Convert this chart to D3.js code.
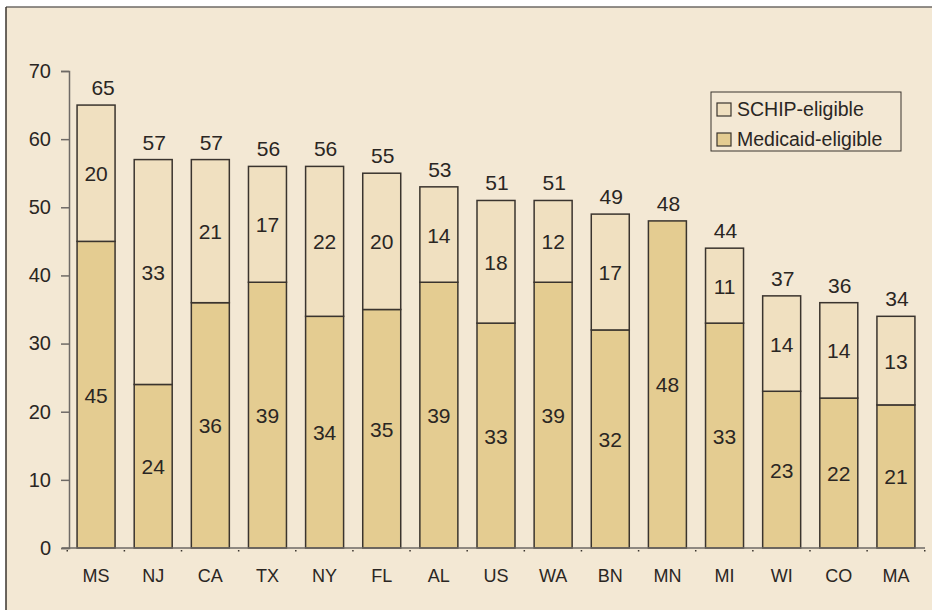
<!DOCTYPE html>
<html>
<head>
<meta charset="utf-8">
<script src="https://cdn.jsdelivr.net/npm/d3@7"></script>
<style>
  body { margin: 0; background: #fff; }
  svg { display: block; font-family: "Liberation Sans", Arial, sans-serif; }
</style>
</head>
<body>
<svg id="chart" width="932" height="610"></svg>
<script>
// data
var states = ["MS", "NJ", "CA", "TX", "NY", "FL", "AL", "US", "WA", "BN", "MN", "MI", "WI", "CO", "MA"];
var medicaid = [45, 24, 36, 39, 34, 35, 39, 33, 39, 32, 48, 33, 23, 22, 21];
var schip = [20, 33, 21, 17, 22, 20, 14, 18, 12, 17, 0, 11, 14, 14, 13];
var yTicks = [0, 10, 20, 30, 40, 50, 60, 70];
var seriesNames = ["SCHIP-eligible", "Medicaid-eligible"];

var svg = d3.select("#chart");
var bg = "#f3e8d4";
var colMedicaid = "#e4cc91";
var colSchip = "#f0e0c0";
var stroke = "#3a342e";

// frame
svg.append("rect").attr("x", 6).attr("y", 7).attr("width", 932).attr("height", 610)
    .attr("fill", bg);
svg.append("line").attr("x1", 6).attr("x2", 932).attr("y1", 7).attr("y2", 7)
    .attr("stroke", "#6e6a66").attr("stroke-width", 1.5);
svg.append("line").attr("x1", 6).attr("x2", 6).attr("y1", 7).attr("y2", 610)
    .attr("stroke", "#3a342e").attr("stroke-width", 1.5);

var x = d3.scaleBand().domain(states).range([67.5, 924.5])
    .paddingInner(0.335).paddingOuter(0.1675);
var y = d3.scaleLinear().domain([0, 70]).range([548, 71]);

var rows = states.map(function(s, i) {
    return { state: s, med: medicaid[i], schip: schip[i], total: medicaid[i] + schip[i] };
});

// y axis
var yAxis = svg.append("g").attr("transform", "translate(69,0)")
    .call(d3.axisLeft(y).tickValues(yTicks).tickSize(8).tickPadding(10));
yAxis.select(".domain").attr("stroke", "#6e6a66").attr("stroke-width", 1.5);
yAxis.selectAll(".tick line").attr("stroke", "#6e6a66").attr("stroke-width", 1.5);
yAxis.selectAll(".tick text").attr("fill", "#2a2623").style("font-size", "20px");

// bars
var g = svg.append("g");
g.selectAll("rect.med").data(rows).enter().append("rect")
    .attr("class", "med")
    .attr("x", function(d) { return x(d.state); })
    .attr("width", x.bandwidth())
    .attr("y", function(d) { return y(d.med); })
    .attr("height", function(d) { return y(0) - y(d.med); })
    .attr("fill", colMedicaid).attr("stroke", stroke).attr("stroke-width", 1.5);

g.selectAll("rect.schip").data(rows.filter(function(d) { return d.schip > 0; })).enter().append("rect")
    .attr("class", "schip")
    .attr("x", function(d) { return x(d.state); })
    .attr("width", x.bandwidth())
    .attr("y", function(d) { return y(d.total); })
    .attr("height", function(d) { return y(d.med) - y(d.total); })
    .attr("fill", colSchip).attr("stroke", stroke).attr("stroke-width", 1.5);

// x axis line + small marks
svg.append("line").attr("x1", 62).attr("x2", 925).attr("y1", 548).attr("y2", 548)
    .attr("stroke", "#6e6a66").attr("stroke-width", 1.5);
svg.selectAll("rect.mark").data(states).enter().append("rect")
    .attr("x", function(d) { return x(d) - x.step() * x.paddingInner() / 2 - 1; })
    .attr("y", 550).attr("width", 1.5).attr("height", 1.5).attr("fill", "#3a342e");
svg.append("rect").attr("x", 924).attr("y", 550).attr("width", 1.5).attr("height", 1.5).attr("fill", "#3a342e");

// category labels
svg.selectAll("text.cat").data(states).enter().append("text")
    .attr("x", function(d) { return x(d) + x.bandwidth() / 2; })
    .attr("y", 582)
    .attr("text-anchor", "middle")
    .attr("fill", "#2a2623")
    .style("font-size", "18px")
    .text(function(d) { return d; });

// value labels
var txt = svg.append("g").attr("fill", "#2a2623").attr("text-anchor", "middle").style("font-size", "21px");
txt.selectAll("text.tot").data(rows).enter().append("text")
    .attr("x", function(d, i) { return x(d.state) + x.bandwidth() / 2 + (i === 0 ? 7 : 1); })
    .attr("y", function(d) { return y(d.total) - 10; })
    .text(function(d) { return d.total; });
txt.selectAll("text.medv").data(rows).enter().append("text")
    .attr("x", function(d) { return x(d.state) + x.bandwidth() / 2; })
    .attr("y", function(d) { return (y(0) + y(d.med)) / 2 + 8; })
    .text(function(d) { return d.med; });
txt.selectAll("text.schv").data(rows.filter(function(d) { return d.schip > 0; })).enter().append("text")
    .attr("x", function(d) { return x(d.state) + x.bandwidth() / 2; })
    .attr("y", function(d) { return (y(d.med) + y(d.total)) / 2 + 8; })
    .text(function(d) { return d.schip; });

// legend
var lg = svg.append("g").attr("transform", "translate(711,92)");
lg.append("rect").attr("width", 190).attr("height", 59)
    .attr("fill", bg).attr("stroke", "#3a342e").attr("stroke-width", 1);
var items = lg.selectAll("g.item").data(seriesNames).enter().append("g")
    .attr("transform", function(d, i) { return "translate(6," + (11 + i * 30) + ")"; });
items.append("rect").attr("width", 14).attr("height", 13)
    .attr("fill", function(d, i) { return i === 0 ? colSchip : colMedicaid; })
    .attr("stroke", "#3a342e").attr("stroke-width", 1.2);
items.append("text").attr("x", 20).attr("y", 13)
    .attr("fill", "#2a2623").style("font-size", "19.5px")
    .text(function(d) { return d; });
</script>
</body>
</html>
